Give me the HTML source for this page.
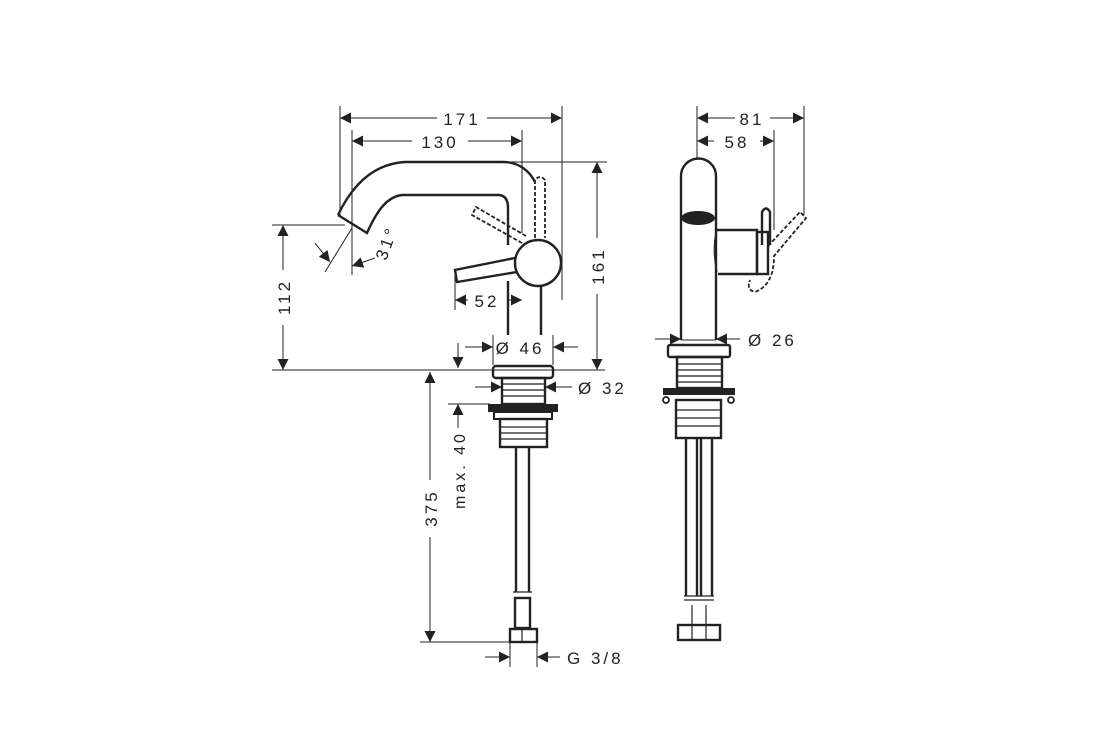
<!DOCTYPE html>
<html><head><meta charset="utf-8"><style>
html,body{margin:0;padding:0;background:#fff;}
svg{display:block;}
text{font-family:"Liberation Sans",sans-serif;font-size:17px;fill:#222;letter-spacing:3px;}
</style></head><body>
<svg width="1120" height="750" viewBox="0 0 1120 750" xmlns="http://www.w3.org/2000/svg">
<defs>
<marker id="a" viewBox="0 0 10 10" refX="10" refY="5" markerWidth="16" markerHeight="11" markerUnits="userSpaceOnUse" orient="auto-start-reverse"><path d="M0,0 L10,5 L0,10 z" fill="#222"/></marker>
</defs>
<g stroke="#222" fill="none" stroke-width="1">
<line x1="340" y1="106" x2="340" y2="215"/>
<line x1="562" y1="106" x2="562" y2="300"/>
<line x1="352" y1="130" x2="352" y2="275"/>
<line x1="522" y1="130" x2="522" y2="233"/>
<line x1="505" y1="162" x2="607" y2="162"/>
<line x1="272" y1="225" x2="345" y2="225"/>
<line x1="272" y1="370" x2="605" y2="370"/>
<line x1="455" y1="275" x2="455" y2="310"/>
<line x1="493" y1="335" x2="493" y2="365"/>
<line x1="553" y1="335" x2="553" y2="365"/>
<line x1="448" y1="404" x2="490" y2="404"/>
<line x1="420" y1="642" x2="512" y2="642"/>
<line x1="510" y1="642" x2="510" y2="667"/>
<line x1="537" y1="642" x2="537" y2="667"/>
<line x1="352" y1="228" x2="325" y2="272"/>
<line x1="340" y1="118" x2="437" y2="118" marker-start="url(#a)"/>
<line x1="487" y1="118" x2="562" y2="118" marker-end="url(#a)"/>
<line x1="352" y1="141" x2="412" y2="141" marker-start="url(#a)"/>
<line x1="468" y1="141" x2="522" y2="141" marker-end="url(#a)"/>
<line x1="597" y1="162" x2="597" y2="238" marker-start="url(#a)"/>
<line x1="597" y1="294" x2="597" y2="370" marker-end="url(#a)"/>
<line x1="283" y1="225" x2="283" y2="270" marker-start="url(#a)"/>
<line x1="283" y1="325" x2="283" y2="370" marker-end="url(#a)"/>
<line x1="455" y1="300" x2="468" y2="300" marker-start="url(#a)"/>
<line x1="508" y1="300" x2="522" y2="300" marker-end="url(#a)"/>
<line x1="465" y1="347" x2="493" y2="347" marker-end="url(#a)"/>
<line x1="578" y1="347" x2="553" y2="347" marker-end="url(#a)"/>
<line x1="458" y1="343" x2="458" y2="368" marker-end="url(#a)"/>
<line x1="315" y1="243" x2="330" y2="262" marker-end="url(#a)"/>
<line x1="375" y1="258" x2="352" y2="266" marker-end="url(#a)"/>
<line x1="475" y1="387" x2="502" y2="387" marker-end="url(#a)"/>
<line x1="572" y1="387" x2="545" y2="387" marker-end="url(#a)"/>
<line x1="458" y1="404" x2="458" y2="428" marker-start="url(#a)"/>
<line x1="430" y1="372" x2="430" y2="480" marker-start="url(#a)"/>
<line x1="430" y1="537" x2="430" y2="642" marker-end="url(#a)"/>
<line x1="485" y1="657" x2="510" y2="657" marker-end="url(#a)"/>
<line x1="560" y1="657" x2="537" y2="657" marker-end="url(#a)"/>
</g>
<g stroke="#222" fill="none" stroke-width="2.4">
<path d="M338,215 C350,190 370,164 405,162 L503,162 C520,162 530,172 535,182"/>
<path d="M338,215 L367,233 C375,215 385,197 402,195 L498,195 C505,195 508,200 508,208 L508,245"/>
<circle cx="538" cy="263" r="23"/>
<path d="M515,258 L455,270 L457,282 L517,272"/>
<line x1="508" y1="281" x2="508" y2="335"/>
<line x1="541" y1="286" x2="541" y2="335"/>
<rect x="493" y="366" width="60" height="12" rx="3"/>
<rect x="502" y="378" width="43" height="26"/>
<rect x="500" y="419" width="47" height="28"/>
<line x1="516" y1="447" x2="516" y2="592"/>
<line x1="529" y1="447" x2="529" y2="592"/>
<rect x="515" y="598" width="15" height="30"/>
<rect x="510" y="629" width="27" height="13"/>
</g>
<g stroke="#222" stroke-width="1.2">
<line x1="502" y1="384" x2="545" y2="384"/><line x1="502" y1="390" x2="545" y2="390"/><line x1="502" y1="396" x2="545" y2="396"/>
<line x1="500" y1="427" x2="547" y2="427"/><line x1="500" y1="433" x2="547" y2="433"/><line x1="500" y1="439" x2="547" y2="439"/>
<line x1="522" y1="629" x2="522" y2="642"/><line x1="513" y1="592" x2="532" y2="592"/>
</g>
<rect x="488" y="404" width="70" height="8" fill="#222"/>
<rect x="494" y="412" width="58" height="7" fill="none" stroke="#222" stroke-width="2"/>
<g stroke="#222" fill="none" stroke-width="1.8" stroke-dasharray="4,2">
<path d="M535,238 L535,180 Q540,174 545,180 L545,238"/>
<path d="M522,243 L472,215 L476,207 L526,236"/>
</g>
<g stroke="#222" fill="none" stroke-width="1">
<line x1="697" y1="106" x2="697" y2="160"/>
<line x1="804" y1="106" x2="804" y2="215"/>
<line x1="774" y1="130" x2="774" y2="230"/>
<line x1="697" y1="118" x2="735" y2="118" marker-start="url(#a)"/>
<line x1="770" y1="118" x2="804" y2="118" marker-end="url(#a)"/>
<line x1="697" y1="141" x2="714" y2="141" marker-start="url(#a)"/>
<line x1="760" y1="141" x2="774" y2="141" marker-end="url(#a)"/>
<line x1="655" y1="339" x2="681" y2="339" marker-end="url(#a)"/>
<line x1="740" y1="339" x2="716" y2="339" marker-end="url(#a)"/>
</g>
<g stroke="#222" fill="none" stroke-width="2.4">
<path d="M681,340 L681,176 A17.5,17.5 0 0 1 716,176 L716,340"/>
<line x1="681" y1="340" x2="716" y2="340" stroke-width="1"/>
<path d="M716,230 L757,230 L757,274 L718,274"/>
<rect x="757" y="232" width="11" height="42"/>
<path d="M762,245 L762,212 Q766,205 770,212 L770,245"/>
<rect x="668" y="345" width="62" height="12" rx="2"/>
<rect x="677" y="357" width="45" height="31"/>
<rect x="676" y="400" width="45" height="38"/>
<line x1="686" y1="438" x2="686" y2="596"/><line x1="697" y1="438" x2="697" y2="596"/>
<line x1="701" y1="438" x2="701" y2="596"/><line x1="712" y1="438" x2="712" y2="596"/>
<rect x="678" y="625" width="42" height="15"/>
</g>
<path d="M716,232 Q712,252 717,272" stroke="#222" stroke-width="1.2" fill="none"/>
<ellipse cx="698" cy="218" rx="17" ry="7" fill="#222"/>
<rect x="663" y="388" width="72" height="7" fill="#222"/>
<g stroke="#222" stroke-width="1.2">
<line x1="677" y1="364" x2="722" y2="364"/><line x1="677" y1="370" x2="722" y2="370"/><line x1="677" y1="376" x2="722" y2="376"/><line x1="677" y1="382" x2="722" y2="382"/>
<line x1="676" y1="410" x2="721" y2="410"/><line x1="676" y1="418" x2="721" y2="418"/><line x1="676" y1="426" x2="721" y2="426"/>
<line x1="684" y1="596" x2="714" y2="596"/><line x1="684" y1="600" x2="714" y2="600"/>
<line x1="692" y1="605" x2="692" y2="640"/><line x1="706" y1="605" x2="706" y2="640"/>
</g>
<g fill="none" stroke="#222" stroke-width="1.8">
<circle cx="666" cy="400" r="3"/><circle cx="731" cy="400" r="3"/>
</g>
<g stroke="#222" fill="none" stroke-width="1.8" stroke-dasharray="4,2">
<path d="M768,246 L800,212 L806,218 L774,256 Q774,285 755,292 Q746,290 750,280"/>
</g>
<text x="462" y="125" text-anchor="middle">171</text>
<text x="440" y="148" text-anchor="middle">130</text>
<text x="487" y="307" text-anchor="middle">52</text>
<text x="520" y="354" text-anchor="middle">Ø 46</text>
<text x="578" y="394">Ø 32</text>
<text x="567" y="664">G 3/8</text>
<text transform="translate(604,266) rotate(-90)" text-anchor="middle">161</text>
<text transform="translate(290,297) rotate(-90)" text-anchor="middle">112</text>
<text transform="translate(437,508) rotate(-90)" text-anchor="middle">375</text>
<text transform="translate(465,470) rotate(-90)" text-anchor="middle" style="font-size:16px">max. 40</text>
<text transform="translate(392,245) rotate(-70)" text-anchor="middle">31°</text>
<text x="752" y="125" text-anchor="middle">81</text>
<text x="737" y="148" text-anchor="middle">58</text>
<text x="748" y="346">Ø 26</text>
</svg>
</body></html>
